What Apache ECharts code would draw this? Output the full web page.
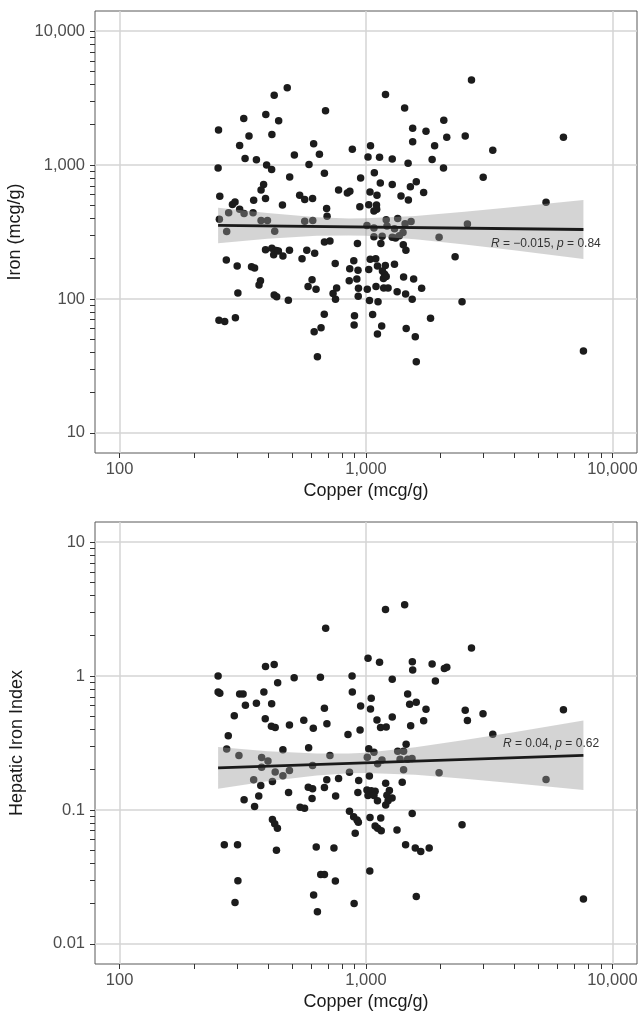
<!DOCTYPE html>
<html>
<head>
<meta charset="utf-8">
<title>Copper vs Iron</title>
<script src="https://cdn.jsdelivr.net/npm/echarts@6/dist/echarts.min.js"></script>
<style>
    html, body { margin: 0; padding: 0; background: #fff; }
    #CopperChart { width: 640px; height: 1014px; }
</style>
</head>
<body>
<div id="CopperChart"></div>
<script>
//tick labels
var xTicks = [100, 1000, 10000];
var ironTicks = [10, 100, 1000, 10000];
var hiiTicks = [0.01, 0.1, 1, 10];

//top panel: copper vs iron
var copperIron = [252, 251, 255, 254, 319, 335, 307, 323, 359, 392, 424, 479, 442, 415, 395, 414, 384, 375, 391, 350,
    294, 287, 307, 320, 277, 348, 458, 490, 512, 587, 613, 647, 685, 678, 538, 564, 607, 692, 695, 564,
    608, 375, 398, 272, 426, 774, 840, 860, 880, 951, 944, 1043, 1019, 1135, 1278, 1200, 1435, 1547, 1547, 1752,
    1899, 1855, 1482, 1081, 1143, 1278, 1038, 1108, 1026, 1103, 1077, 1105, 1387, 1486, 1514, 1600, 1714, 1208, 1345, 1441,
    1524, 1009, 1077, 1217, 1305, 1413, 1366, 2069, 2127, 2528, 2680, 3270, 6330, 2063, 2990, 5380, 2580, 1980, 1077, 1163,
    1149, 1278, 1318, 1417, 1452, 678, 714, 923, 391, 415, 432, 422, 441, 460, 489, 575, 550, 619, 271, 300,
    343, 353, 373, 368, 302, 424, 434, 484, 253, 267, 295, 750, 892, 859, 928, 1040, 1095, 1026, 1113, 1198,
    1305, 1166, 1190, 1177, 1208, 855, 918, 604, 582, 627, 760, 735, 752, 932, 1012, 1098, 930, 1180, 1229, 1421,
    1561, 1338, 1448, 1540, 1682, 1033, 1119, 677, 898, 895, 1064, 1158, 1113, 657, 616, 635, 1456, 1585, 1600, 1828,
    2300, 2454, 7630];
var iron = [1830, 950, 585, 393, 2230, 1650, 1400, 1120, 1095, 2380, 3320, 3770, 2140, 1690, 1000, 925, 715, 650, 562, 545,
    530, 508, 468, 434, 440, 440, 502, 815, 1190, 1010, 1440, 1205, 2540, 870, 595, 553, 563, 474, 415, 380,
    385, 385, 385, 319, 321, 652, 619, 636, 1310, 800, 488, 1390, 1150, 1145, 1110, 3360, 2670, 1880, 1490, 1790,
    1390, 1100, 1030, 875, 735, 715, 628, 594, 505, 502, 453, 468, 586, 547, 688, 750, 623, 390, 399, 364,
    378, 354, 339, 351, 335, 313, 297, 2160, 1610, 1650, 4310, 1290, 1610, 950, 810, 527, 363, 289, 291, 294,
    259, 289, 285, 254, 231, 266, 271, 259, 233, 239, 230, 214, 228, 209, 231, 231, 200, 219, 195, 176,
    174, 170, 137, 127, 111, 107, 104, 98, 69.5, 68, 72.5, 184, 193, 168, 164, 198, 200, 166, 176, 178,
    182, 162, 153, 142, 147, 137, 141, 139, 124, 118, 121, 110, 99.6, 120, 118, 124, 105, 121, 121, 146,
    141, 113, 109, 99.6, 120, 97.4, 95.2, 77, 75, 64, 76.7, 62.7, 54.7, 61, 57, 37, 60.3, 52.3, 34, 71.7,
    207, 95.2, 40.9];

//bottom panel: copper vs hepatic iron index
var copperHii = [251, 251, 255, 276, 292, 307, 317, 324, 359, 391, 424, 385, 414, 438, 390, 413, 428, 460, 489, 511,
    559, 611, 585, 653, 678, 694, 686, 714, 878, 880, 951, 845, 946, 1019, 1135, 1200, 1435, 1050, 1043, 1108,
    1146, 1208, 1278, 1278, 1542, 1547, 1855, 1913, 1476, 1504, 1599, 1752, 1714, 1518, 1455, 1026, 1077, 272, 305, 377,
    400, 377, 428, 350, 374, 417, 460, 489, 607, 583, 607, 485, 367, 320, 353, 417, 426, 437, 540, 563,
    604, 266, 301, 433, 628, 302, 294, 613, 635, 678, 693, 774, 857, 753, 927, 934, 1032, 1009, 1050, 1089,
    1019, 1077, 1113, 1202, 1244, 1216, 1276, 1202, 1229, 1403, 857, 891, 920, 931, 1038, 1148, 1089, 1115, 1153, 904,
    1336, 1540, 741, 1448, 1585, 1668, 1805, 1036, 655, 678, 751, 895, 1600, 2680, 2080, 2128, 2528, 2580, 2985, 6330,
    3270, 2454, 7630, 5380, 1980, 1012, 1115, 1161, 1345, 1421, 1375, 1476, 1537, 1421];
var hii = [1.0, 0.76, 0.745, 0.358, 0.505, 0.733, 0.733, 0.606, 0.626, 1.18, 1.22, 0.76, 0.622, 0.89, 0.48, 0.422, 0.412, 0.282, 0.43, 0.97,
    0.468, 0.407, 0.292, 0.98, 0.574, 0.44, 2.27, 0.255, 1.0, 0.76, 0.597, 0.366, 0.395, 1.36, 1.27, 3.14, 3.40, 0.683, 0.567, 0.47,
    0.413, 0.416, 0.946, 0.494, 1.28, 1.11, 1.23, 0.92, 0.733, 0.616, 0.637, 0.566, 0.463, 0.425, 0.31, 0.287, 0.27, 0.285, 0.255, 0.246,
    0.232, 0.208, 0.192, 0.168, 0.152, 0.163, 0.18, 0.197, 0.215, 0.148, 0.144, 0.135, 0.127, 0.119, 0.106, 0.085, 0.079, 0.073, 0.105, 0.103,
    0.122, 0.055, 0.055, 0.050, 0.053, 0.0296, 0.0204, 0.0232, 0.0174, 0.147, 0.168, 0.172, 0.191, 0.127, 0.135, 0.166, 0.179, 0.141, 0.139, 0.138,
    0.128, 0.128, 0.117, 0.158, 0.140, 0.129, 0.123, 0.109, 0.117, 0.161, 0.098, 0.089, 0.084, 0.081, 0.088, 0.087, 0.076, 0.073, 0.070, 0.067,
    0.071, 0.094, 0.052, 0.055, 0.052, 0.049, 0.052, 0.035, 0.033, 0.033, 0.0295, 0.020, 0.0226, 1.62, 1.14, 1.165, 0.555, 0.466, 0.523, 0.561,
    0.368, 0.0775, 0.0216, 0.169, 0.190, 0.248, 0.221, 0.236, 0.275, 0.275, 0.239, 0.239, 0.242, 0.200];

//fitted lines and confidence bands
var fitX = [251, 7630];
var ironFit = [354, 330];
var hiiFit = [0.206, 0.256];
var bandX = [251, 398, 631, 851, 1000, 1585, 2512, 3981, 7630];
var ironBandLo = [261, 281, 296, 298, 296, 279, 255, 231, 199];
var ironBandHi = [480, 438, 408, 399, 400, 417, 448, 486, 548];
var hiiBandLo = [0.144, 0.164, 0.181, 0.188, 0.189, 0.183, 0.171, 0.158, 0.141];
var hiiBandHi = [0.295, 0.275, 0.264, 0.264, 0.268, 0.294, 0.333, 0.381, 0.466];

var FONT = "'Liberation Sans', Arial, sans-serif";
var GRID_LINE = '#d5d5d5';

function pairs(xs, ys) {
    var out = [];
    for (var i = 0; i < xs.length; i++) out.push([xs[i], ys[i]]);
    return out;
}

//log minor ticks 1..9 in every decade
function logTicks(from, to) {
    var out = [];
    for (var d = from; d < to * 0.999; d *= 10) {
        for (var k = 1; k < 10; k++) out.push(+(d * k).toPrecision(3));
    }
    out.push(to);
    return out;
}

function commas(v) {
    return String(Math.round(v)).replace(/\B(?=(\d{3})+(?!\d))/g, ',');
}

function plain(v) {
    return String(parseFloat(v.toPrecision(2)));
}

function mainAxis(dim, grid, lo, hi, ticks, name, fmt, gap) {
    return {
        type: 'log', gridIndex: grid, min: Math.pow(10, lo), max: Math.pow(10, hi),
        position: dim === 'x' ? 'bottom' : 'left',
        name: name, nameLocation: 'middle', nameGap: gap,
        nameTextStyle: { fontFamily: FONT, fontSize: 18, color: '#1a1a1a' },
        axisLine: { show: false },
        axisTick: { show: false, customValues: ticks },
        axisLabel: {
            customValues: ticks, formatter: fmt, margin: dim === 'x' ? 8 : 10,
            fontFamily: FONT, fontSize: 16.5, color: '#4d4d4d'
        },
        splitLine: { show: true, lineStyle: { color: GRID_LINE, width: 1.5 } }
    };
}

function tickAxis(dim, grid, lo, hi, ticks) {
    return {
        type: 'log', gridIndex: grid, min: Math.pow(10, lo), max: Math.pow(10, hi),
        position: dim === 'x' ? 'bottom' : 'left',
        axisLine: { show: false },
        axisLabel: { show: false },
        splitLine: { show: false },
        axisTick: { show: true, length: 5, customValues: ticks, lineStyle: { color: '#333', width: 1 } }
    };
}

function scatterSeries(xi, yi, xs, ys) {
    return {
        type: 'scatter', xAxisIndex: xi, yAxisIndex: yi, z: 2, silent: true,
        symbolSize: 7.5, itemStyle: { color: '#1c1c1c', opacity: 1 },
        data: pairs(xs, ys)
    };
}

function bandSeries(xi, yi, xs, lo, hi) {
    return {
        type: 'custom', xAxisIndex: xi, yAxisIndex: yi, z: 3, silent: true,
        data: [[xs[0], lo[0]]],
        renderItem: function (params, api) {
            var pts = [];
            for (var i = 0; i < xs.length; i++) pts.push(api.coord([xs[i], hi[i]]));
            for (var j = xs.length - 1; j >= 0; j--) pts.push(api.coord([xs[j], lo[j]]));
            return { type: 'polygon', shape: { points: pts }, style: { fill: 'rgba(153,153,153,0.42)' } };
        }
    };
}

function fitSeries(xi, yi, xs, ys) {
    return {
        type: 'line', xAxisIndex: xi, yAxisIndex: yi, z: 4, silent: true,
        showSymbol: false, lineStyle: { color: '#1a1a1a', width: 2.8 },
        data: pairs(xs, ys)
    };
}

function statText(left, top, r, p) {
    return {
        type: 'text', left: left, top: top, z: 10,
        style: {
            text: '{i|R} = ' + r + ', {i|p} = ' + p,
            fontFamily: FONT, fontSize: 12, fill: '#333',
            rich: { i: { fontFamily: FONT, fontSize: 12, fill: '#333', fontStyle: 'italic' } }
        }
    };
}

//CopperChart
function drawCopperChart() {
    var dom = document.getElementById("CopperChart");
    var myChart = echarts.init(dom);
    var option = null;

    option = {
        animation: false,
        backgroundColor: '#fff',
        grid: [
            { left: 95, top: 11, width: 542, height: 442, show: true, borderColor: '#595959', borderWidth: 1, containLabel: false, outerBoundsMode: 'none' },
            { left: 95, top: 522, width: 542, height: 442, show: true, borderColor: '#595959', borderWidth: 1, containLabel: false, outerBoundsMode: 'none' }
        ],
        xAxis: [
            mainAxis('x', 0, 1.9, 4.1, xTicks, 'Copper (mcg/g)', commas, 29),
            tickAxis('x', 0, 1.9, 4.1, logTicks(100, 10000)),
            mainAxis('x', 1, 1.9, 4.1, xTicks, 'Copper (mcg/g)', commas, 29),
            tickAxis('x', 1, 1.9, 4.1, logTicks(100, 10000))
        ],
        yAxis: [
            mainAxis('y', 0, 0.85, 4.15, ironTicks, 'Iron (mcg/g)', commas, 69),
            tickAxis('y', 0, 0.85, 4.15, logTicks(10, 10000)),
            mainAxis('y', 1, -2.15, 1.15, hiiTicks, 'Hepatic Iron Index', plain, 69),
            tickAxis('y', 1, -2.15, 1.15, logTicks(0.01, 10))
        ],
        series: [
            scatterSeries(0, 0, copperIron, iron),
            bandSeries(0, 0, bandX, ironBandLo, ironBandHi),
            fitSeries(0, 0, fitX, ironFit),
            scatterSeries(2, 2, copperHii, hii),
            bandSeries(2, 2, bandX, hiiBandLo, hiiBandHi),
            fitSeries(2, 2, fitX, hiiFit)
        ],
        graphic: [
            statText(491, 238, '\u22120.015', '0.84'),
            statText(503, 738, '0.04', '0.62')
        ]
    };

    if (option && typeof option === "object") {
        myChart.setOption(option, true);
    }
}

drawCopperChart();
</script>
</body>
</html>
